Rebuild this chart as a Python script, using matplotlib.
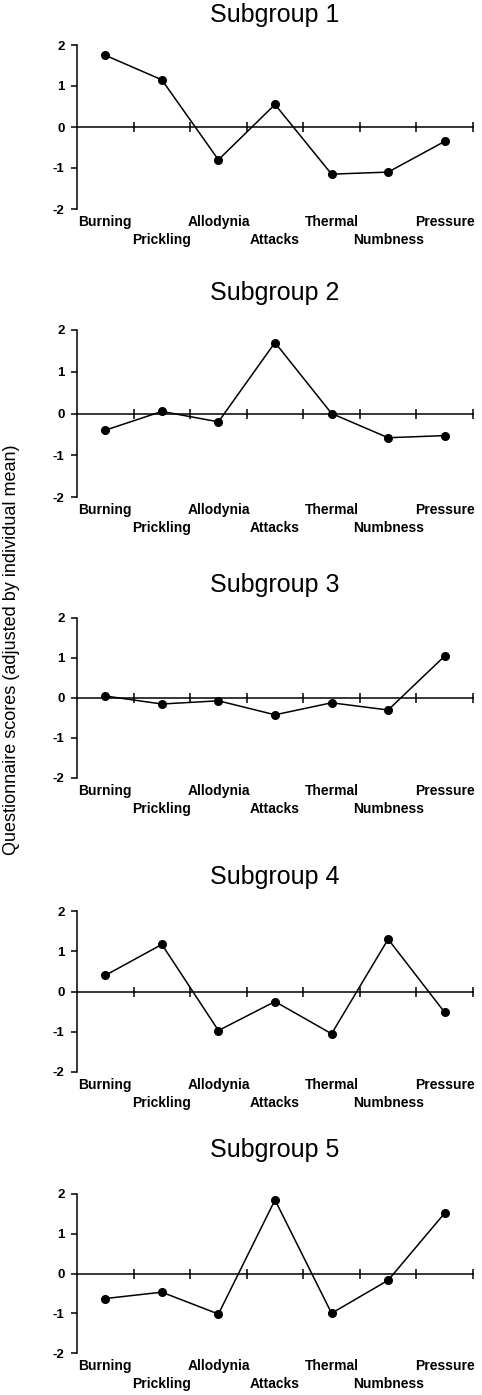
import numpy as np
import matplotlib
matplotlib.use("Agg")
import matplotlib.pyplot as plt

plt.rcParams['font.family'] = ['Liberation Sans', 'DejaVu Sans']

categories = ["Burning", "Prickling", "Allodynia", "Attacks", "Thermal", "Numbness", "Pressure"]
titles = ["Subgroup 1", "Subgroup 2", "Subgroup 3", "Subgroup 4", "Subgroup 5"]

sub1 = [1.75, 1.15, -0.80, 0.55, -1.15, -1.10, -0.35]
sub2 = [-0.40, 0.05, -0.20, 1.70, 0.00, -0.58, -0.53]
sub3 = [0.05, -0.15, -0.07, -0.42, -0.12, -0.30, 1.05]
sub4 = [0.40, 1.17, -0.97, -0.25, -1.05, 1.30, -0.52]
sub5 = [-0.63, -0.47, -1.02, 1.85, -1.00, -0.17, 1.52]
series = [sub1, sub2, sub3, sub4, sub5]

# pixel rows of the y=2 / y=-2 lines for each panel, and the title centres
W, H = 482, 1395
tops = [45, 330, 618, 911, 1194]
bots = [209, 497, 778, 1072, 1353]
title_y = [15, 293, 585, 877, 1150]
left, right = 77, 473

fig = plt.figure(figsize=(W / 100, H / 100), dpi=100)

x = np.arange(len(categories)) + 0.5
for i in range(5):
    ax = fig.add_axes([left / W, 1 - bots[i] / H, (right - left) / W, (bots[i] - tops[i]) / H])
    ax.plot(x, series[i], color='black', lw=1.1, marker='o', ms=5.5, zorder=3)
    ax.set_xlim(0, 7)
    ax.set_ylim(-2, 2)
    ax.spines['top'].set_visible(False)
    ax.spines['right'].set_visible(False)
    ax.spines['bottom'].set_position(('data', 0))
    ax.spines['bottom'].set_linewidth(1.1)
    ax.spines['left'].set_linewidth(1.1)
    ax.set_xticks(np.arange(1, 8))
    ax.set_xticklabels([])
    ax.tick_params(axis='x', direction='inout', length=7, width=1.1)
    ax.set_yticks([-2, -1, 0, 1, 2])
    ax.set_yticklabels(['-2', '-1', '0', '1', '2'], fontweight='bold', fontsize=9.5)
    ax.tick_params(axis='y', direction='out', length=4, width=1.1, pad=5)
    # staggered category labels under the panel
    for j, c in enumerate(categories):
        off = -13 if j % 2 == 0 else -31
        ax.annotate(c, xy=(x[j], -2), xytext=(0, off), textcoords='offset pixels',
                    ha='center', va='center', fontweight='bold', fontsize=10,
                    annotation_clip=False)
    ax.set_title(titles[i], fontsize=18, pad=0,
                 y=1 + (tops[i] - title_y[i]) / (bots[i] - tops[i]), va='center')

fig.text(12 / W, 1 - 650 / H, "Questionnaire scores (adjusted by individual mean)",
         rotation=90, ha='center', va='center', fontsize=13)

fig.savefig("out.png", dpi=100)
